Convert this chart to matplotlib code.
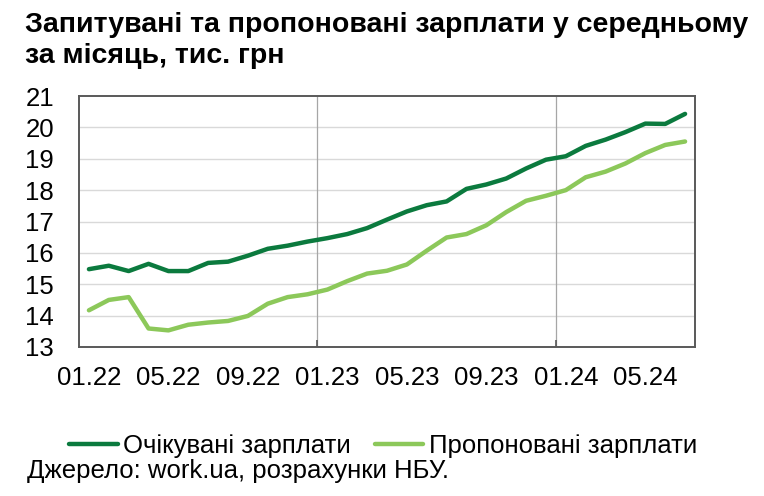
import numpy as np
import matplotlib.pyplot as plt

plt.rcParams['font.family'] = ['Liberation Sans', 'DejaVu Sans']

# monthly data 01.22 - 07.24, thousand UAH
months = ["01.22", "02.22", "03.22", "04.22", "05.22", "06.22", "07.22", "08.22",
          "09.22", "10.22", "11.22", "12.22", "01.23", "02.23", "03.23", "04.23",
          "05.23", "06.23", "07.23", "08.23", "09.23", "10.23", "11.23", "12.23",
          "01.24", "02.24", "03.24", "04.24", "05.24", "06.24", "07.24"]
expected = [15.48, 15.59, 15.42, 15.65, 15.42, 15.42, 15.68, 15.72, 15.91, 16.13,
            16.23, 16.36, 16.47, 16.60, 16.79, 17.06, 17.32, 17.52, 17.64, 18.04,
            18.18, 18.37, 18.69, 18.97, 19.08, 19.41, 19.61, 19.85, 20.12, 20.11,
            20.43]
offered = [14.17, 14.50, 14.59, 13.59, 13.53, 13.71, 13.78, 13.83, 13.99, 14.38,
           14.59, 14.68, 14.83, 15.10, 15.34, 15.43, 15.63, 16.07, 16.49, 16.60,
           16.88, 17.30, 17.66, 17.82, 18.00, 18.41, 18.59, 18.85, 19.18, 19.44,
           19.55]
tick_labels = months[::4]

dark = "#0b7a3e"
light = "#8cc85a"
fs = 18.5

fig = plt.figure(figsize=(7.64, 4.96), dpi=100)
ax = fig.add_axes([79/764, 1 - 347/496, (695 - 79)/764, (347 - 96)/496])

x = np.arange(len(months))
ax.plot(x, expected, color=dark, lw=3.2, solid_capstyle='round', label="Очікувані зарплати")
ax.plot(x, offered, color=light, lw=3.2, solid_capstyle='round', label="Пропоновані зарплати")

ax.set_xlim(-0.5, len(months) - 0.5)
ax.set_ylim(13, 21)
ax.set_yticks(range(13, 22))
ax.set_xticks(x[::4])
ax.set_xticklabels(tick_labels)
ax.tick_params(axis='both', length=0, labelsize=fs)
ax.tick_params(axis='y', pad=18)
ax.tick_params(axis='x', pad=14)

# grid and year separators
for v in range(14, 21):
    ax.axhline(v, color="#d9d9d9", lw=1.0, zorder=0)
for b in [11.5, 23.5]:
    ax.axvline(b, color="#a6a6a6", lw=0.9, zorder=0)
ax.set_xticks([11.5, 23.5], minor=True)
ax.tick_params(axis='x', which='minor', direction='in', length=5, width=1.2, color="#595959")

for s in ax.spines.values():
    s.set_color("#595959")
    s.set_linewidth(1.4)

fig.text(25/764, 1 - 32/496, "Запитувані та пропоновані зарплати у середньому",
         fontsize=20.5, fontweight='bold', ha='left', va='baseline')
fig.text(25/764, 1 - 63/496, "за місяць, тис. грн",
         fontsize=20.5, fontweight='bold', ha='left', va='baseline')

fig.legend(loc='center left', bbox_to_anchor=(69/764, 1 - 446/496), ncol=2,
           frameon=False, fontsize=fs, handlelength=1.9, handletextpad=0.2,
           columnspacing=0.93, borderpad=0, borderaxespad=0)

fig.text(27/764, 1 - 478/496, "Джерело: work.ua, розрахунки НБУ.",
         fontsize=fs, ha='left', va='baseline')

fig.savefig("out.png", dpi=100)
plt.close(fig)
